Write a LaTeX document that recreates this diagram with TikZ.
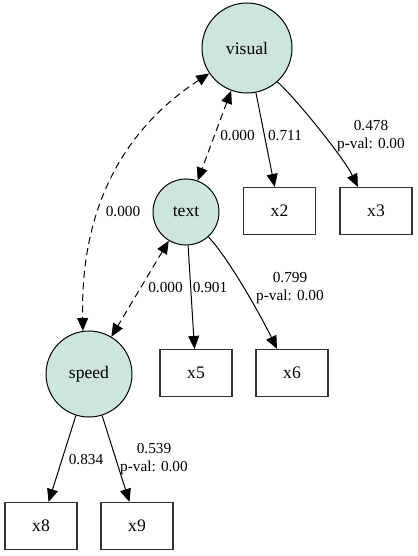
\documentclass[tikz,border=0pt]{standalone}
\usepackage{fontspec}
\setmainfont{Liberation Serif}
\usetikzlibrary{arrows.meta}
\begin{document}
\begin{tikzpicture}[x=1pt,y=-1pt,
  latent/.style={circle,draw=black,line width=1pt,fill={rgb,255:red,204;green,229;blue,223},
    inner sep=0pt,font=\rmfamily\fontsize{17.6}{20}\selectfont},
  observed/.style={rectangle,draw=black!80,line width=1.1pt,fill=white,minimum width=72pt,
    minimum height=47pt,inner sep=0pt,font=\rmfamily\fontsize{17.6}{20}\selectfont},
  load/.style={line width=1pt,-{Triangle[length=13pt,width=11pt]}},
  cov/.style={line width=1pt,dash pattern=on 7pt off 4.5pt,
    {Triangle[length=13pt,width=11pt]}-{Triangle[length=13pt,width=11pt]}},
  lab/.style={font=\rmfamily\fontsize{15.3}{18}\selectfont,inner sep=0pt,align=center}]
\useasboundingbox (0,0) rectangle (417,556);

% latent factors
\node[latent,minimum size=90pt] (visual) at (247,48) {visual};
\node[latent,minimum size=66pt] (text) at (186,212) {text};
\node[latent,minimum size=86pt] (speed) at (89,374) {speed};

% indicators
\node[observed] (x2) at (279.5,211) {x2};
\node[observed] (x3) at (376,211) {x3};
\node[observed] (x5) at (196,373) {x5};
\node[observed] (x6) at (292,373) {x6};
\node[observed] (x8) at (41,526) {x8};
\node[observed] (x9) at (137,526) {x9};

% loadings
\draw[load] (visual) -- (x2);
\draw[load] (visual.-48) .. controls (300,103) and (345,160) .. (x3.127);
\draw[load] (text) -- (x5);
\draw[load] (text.-48) .. controls (230,260) and (262,318) .. (x6.122);
\draw[load] (speed) -- (x8);
\draw[load] (speed) -- (x9);

% factor covariances
\draw[cov] (visual) -- (text);
\draw[cov] (text) -- (speed);
\draw[cov] (visual.214) .. controls (130,125) and (80,200) .. (speed.98);

% edge labels
\node[lab] (l2) at (285,136) {0.711};
\node[lab] (l3) at (371,136) {0.478\\p-val: 0.00};
\node[lab] (lvt) at (237.5,136) {0.000};
\node[lab] (lvs) at (123,212) {0.000};
\node[lab] (lts) at (165.5,288) {0.000};
\node[lab] (l5) at (210,288) {0.901};
\node[lab] (l6) at (290,288) {0.799\\p-val: 0.00};
\node[lab] (l8) at (86,460) {0.834};
\node[lab] (l9) at (154,459) {0.539\\p-val: 0.00};
\end{tikzpicture}
\end{document}
